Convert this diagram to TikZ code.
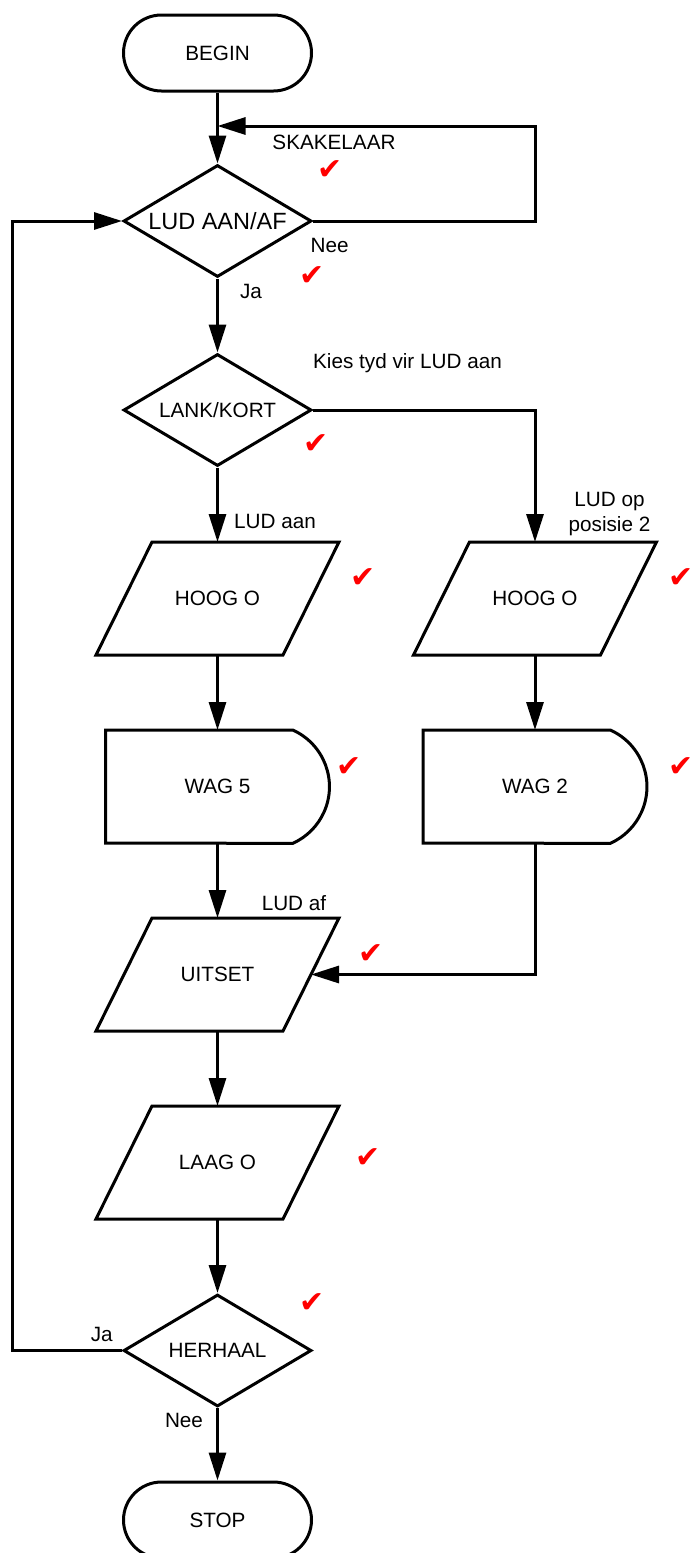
\documentclass[tikz,border=0pt]{standalone}
\usepackage{fontspec}
\setmainfont{Liberation Sans}
\newfontfamily\symfont{DejaVu Sans}
\usetikzlibrary{arrows.meta,shapes.geometric}
\newcommand\paral[1]{\draw ([xshift=28pt]#1.north west) -- ([xshift=28pt]#1.north east) -- ([xshift=-28pt]#1.south east) -- ([xshift=-28pt]#1.south west) -- cycle;}
\newcommand\delayshape[1]{\draw (#1.north west) -- ([xshift=-36.8pt]#1.north east) arc[start angle=65.9, end angle=-65.9, radius=62.1pt] -- (#1.south west) -- cycle;}
\begin{document}
\begin{tikzpicture}[x=1pt,y=-1pt,
  line width=3pt, line join=miter,
  txt/.style={font=\fontsize{20.7}{24}\selectfont, inner sep=0pt},
  arr/.style={-{Triangle[length=28pt,width=17pt]}},
  term/.style={draw, rectangle, rounded corners=38pt, minimum width=188pt, minimum height=76pt, txt},
  dec/.style={draw, diamond, aspect=1.68, minimum width=188pt, minimum height=112pt, txt},
  iobox/.style={rectangle, outer sep=0pt, minimum width=187pt, minimum height=113pt, txt},
  delaybox/.style={rectangle, outer sep=0pt, minimum width=224pt, minimum height=113pt, txt},
  lab/.style={txt, anchor=base},
  chk/.style={text=red, font=\symfont\fontsize{30}{30}\selectfont, inner sep=0pt},
]
\useasboundingbox (0,0) rectangle (694,1553);
\fill[white] (0,0) rectangle (694,1553);
\clip (0,0) rectangle (694,1553);

% shapes
\node[term] (begin) at (217.5,53) {BEGIN};
\node[dec, font=\fontsize{23.5}{26}\selectfont] (d1) at (217.5,221) {LUD AAN/AF};
\node[dec] (d2) at (217.5,410) {LANK/KORT};
\node[iobox] (h1) at (217.5,598.5) {HOOG O}; \paral{h1}
\node[iobox] (h2) at (535,598.5) {HOOG O}; \paral{h2}
\node[delaybox] (w1) at (217.5,786.5) {WAG 5}; \delayshape{w1}
\node[delaybox] (w2) at (535,786.5) {WAG 2}; \delayshape{w2}
\node[iobox] (u) at (217.5,974.5) {UITSET}; \paral{u}
\node[iobox] (l) at (217.5,1162.5) {LAAG O}; \paral{l}
\node[dec] (d4) at (217.5,1350.5) {HERHAAL};
\node[term] (stop) at (217.5,1520) {STOP};

% connectors
\coordinate (skR) at (535,126);
\coordinate (lp) at (12,1350.5);
\draw[arr] (begin.south) -- (d1.north);
\draw[arr] (d1.east) -| (skR) -- (begin.south |- skR);
\draw[arr] (d1.south) -- (d2.north);
\draw[arr] (d2.south) -- (h1.north);
\draw[arr] (d2.east) -| (h2.north);
\draw[arr] (h1.south) -- (w1.north);
\draw[arr] (h2.south) -- (w2.north);
\draw[arr] (w1.south) -- (u.north);
\draw[arr] (w2.south) |- (u.east);
\draw[arr] (u.south) -- (l.north);
\draw[arr] (l.south) -- (d4.north);
\draw[arr] (d4.south) -- (stop.north);
\draw[arr] (d4.west) -- (lp) |- (d1.west);

% labels
\node[lab] (t1) at (334,149) {SKAKELAAR};
\node[lab] (t2) at (329.6,252) {Nee};
\node[lab] (t3) at (251,298) {Ja};
\node[lab] (t4) at (407.5,368.3) {Kies tyd vir LUD aan};
\node[lab] (t5) at (275,528.3) {LUD aan};
\node[lab] (t6) at (609.5,506.7) {LUD op};
\node[lab] (t7) at (609.5,531) {posisie 2};
\node[lab] (t8) at (294,910) {LUD af};
\node[lab] (t9) at (101.7,1341) {Ja};
\node[lab] (t10) at (184,1427.7) {Nee};

% check marks
\node[chk] (c1) at (330,170) {✔};
\node[chk] (c2) at (312,276) {✔};
\node[chk] (c3) at (316,444) {✔};
\node[chk] (c4) at (363,578) {✔};
\node[chk] (c5) at (681,578) {✔};
\node[chk] (c6) at (349,767) {✔};
\node[chk] (c7) at (681,767) {✔};
\node[chk] (c8) at (371,954) {✔};
\node[chk] (c9) at (368,1158) {✔};
\node[chk] (c10) at (312,1303) {✔};
\end{tikzpicture}
\end{document}
